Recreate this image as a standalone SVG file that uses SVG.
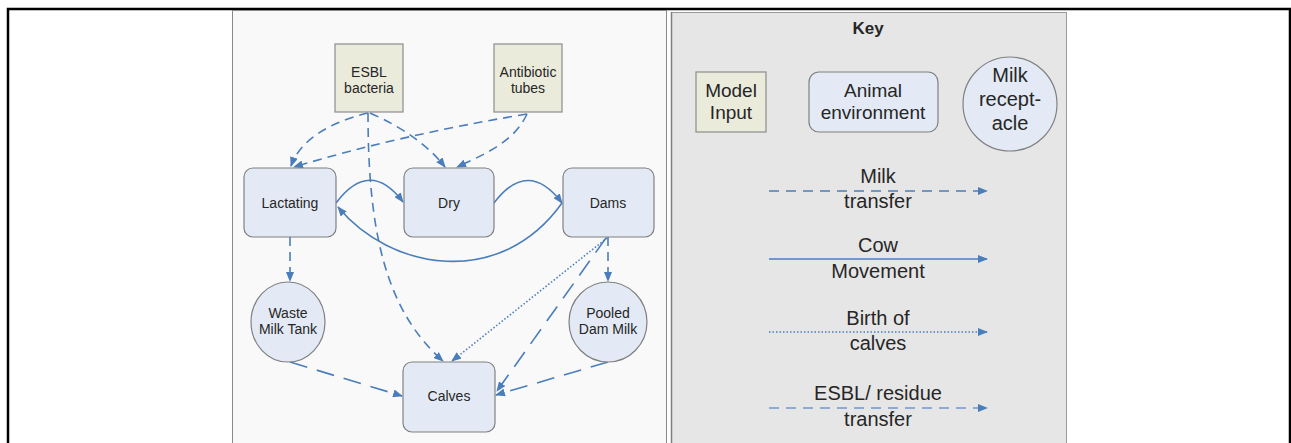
<svg xmlns="http://www.w3.org/2000/svg" width="1291" height="443" viewBox="0 0 1291 443">
<style>
text{font-family:"Liberation Sans",Arial,sans-serif;fill:#262626;text-anchor:middle}
.t{font-size:14px}
.k{font-size:20px}
.k2{font-size:19px}
.box{fill:#e3eaf5;stroke:#808080;stroke-width:1.2}
.inp{fill:#ebebdc;stroke:#8c8c8c;stroke-width:1.2}
.c{fill:none;stroke:#4a7ebb;stroke-width:1.6}
.esbl{stroke-dasharray:9,6}
.milk{stroke-dasharray:18,10}
.dot{stroke-dasharray:1.5,2}
.kd{stroke-dasharray:10,7}
</style>
<defs>
<marker id="ah" markerWidth="10" markerHeight="8" refX="9" refY="4" orient="auto" markerUnits="userSpaceOnUse">
<path d="M0,0 L10,4 L0,8 Z" fill="#4a7ebb"/>
</marker>
</defs>
<rect width="1291" height="443" fill="#ffffff"/>
<path d="M8,443 L8,9 L1290,9 L1290,443" fill="none" stroke="#000" stroke-width="2.5"/>
<rect id="panel" x="232.5" y="10.5" width="434" height="440" fill="#f9f9f9" stroke="#8a8a8a" stroke-width="1"/>
<rect id="keypanel" x="671.5" y="12.5" width="395" height="440" fill="#e6e6e6" stroke="#9a9a9a" stroke-width="1"/>
<line x1="671.5" y1="12" x2="671.5" y2="443" stroke="#808080" stroke-width="1.5"/>

<g id="connectors">
<path class="c esbl" d="M368,113 C330,122 300,140 291,166" marker-end="url(#ah)"/>
<path class="c esbl" d="M527,114 Q400,135 294,167" marker-end="url(#ah)"/>
<path class="c esbl" d="M370,113 Q420,135 445,167" marker-end="url(#ah)"/>
<path class="c esbl" d="M527,114 C515,140 490,152 457,167" marker-end="url(#ah)"/>
<path class="c esbl" d="M368,113 C368,230 385,310 443,361" marker-end="url(#ah)"/>
<path class="c" d="M336,203 Q370,158 403,202" marker-end="url(#ah)"/>
<path class="c" d="M494,203 Q528,158 562,203" marker-end="url(#ah)"/>
<path class="c" d="M562,203 C500,290 390,270 338,207" marker-end="url(#ah)"/>
<path class="c esbl" d="M290,237 L290,281" marker-end="url(#ah)"/>
<path class="c esbl" d="M608,237 L608,281" marker-end="url(#ah)"/>
<path class="c dot" d="M607,238 L452,361" marker-end="url(#ah)"/>
<path class="c milk" d="M606,238 L497,391" marker-end="url(#ah)"/>
<path class="c milk" d="M290,362 L402,396" marker-end="url(#ah)"/>
<path class="c milk" d="M608,362 L496,395" marker-end="url(#ah)"/>
</g>

<g id="esbl-bacteria">
<rect class="inp" x="335" y="44" width="68" height="68"/>
<text class="t" x="369" y="77">ESBL</text>
<text class="t" x="369" y="93">bacteria</text>
</g>
<g id="antibiotic-tubes">
<rect class="inp" x="494" y="44" width="68" height="68"/>
<text class="t" x="528" y="77">Antibiotic</text>
<text class="t" x="528" y="93">tubes</text>
</g>
<g id="lactating">
<rect class="box" x="244" y="168" width="92" height="69" rx="9"/>
<text class="t" x="290" y="208">Lactating</text>
</g>
<g id="dry">
<rect class="box" x="404" y="168" width="90" height="69" rx="9"/>
<text class="t" x="449" y="208">Dry</text>
</g>
<g id="dams">
<rect class="box" x="563" y="168" width="91" height="69" rx="9"/>
<text class="t" x="608" y="208">Dams</text>
</g>
<g id="waste-milk-tank">
<ellipse class="box" cx="288" cy="322" rx="37" ry="40"/>
<text class="t" x="288" y="318">Waste</text>
<text class="t" x="288" y="334">Milk Tank</text>
</g>
<g id="pooled-dam-milk">
<ellipse class="box" cx="608" cy="322" rx="39" ry="40"/>
<text class="t" x="608" y="318">Pooled</text>
<text class="t" x="608" y="334">Dam Milk</text>
</g>
<g id="calves">
<rect class="box" x="403" y="362" width="92" height="70" rx="9"/>
<text class="t" x="449" y="401">Calves</text>
</g>

<g id="key">
<text x="868" y="34" style="font-size:17px;font-weight:bold">Key</text>
<g id="key-model-input">
<rect class="inp" x="696" y="72" width="70" height="60"/>
<text class="k2" x="731" y="97">Model</text>
<text class="k2" x="731" y="119">Input</text>
</g>
<g id="key-animal-environment">
<rect class="box" x="809" y="72" width="129" height="60" rx="10"/>
<text class="k2" x="873" y="97">Animal</text>
<text class="k2" x="873" y="119">environment</text>
</g>
<g id="key-milk-receptacle">
<circle class="box" cx="1010" cy="104" r="47"/>
<text class="k" x="1010" y="82">Milk</text>
<text class="k" x="1010" y="106">recept-</text>
<text class="k" x="1010" y="130">acle</text>
</g>
<g id="key-milk-transfer">
<path class="c kd" d="M769,191 L987,191" marker-end="url(#ah)"/>
<text class="k" x="878" y="183">Milk</text>
<text class="k" x="878" y="208">transfer</text>
</g>
<g id="key-cow-movement">
<path class="c" d="M769,259 L987,259" marker-end="url(#ah)"/>
<text class="k" x="878" y="252">Cow</text>
<text class="k" x="878" y="278">Movement</text>
</g>
<g id="key-birth">
<path class="c dot" d="M769,332 L987,332" marker-end="url(#ah)"/>
<text class="k" x="878" y="325">Birth of</text>
<text class="k" x="878" y="350">calves</text>
</g>
<g id="key-esbl">
<path class="c kd" d="M769,408 L987,408" marker-end="url(#ah)" style="stroke:#6f97d0"/>
<text class="k" x="878" y="400">ESBL/ residue</text>
<text class="k" x="878" y="426">transfer</text>
</g>
</g>
</svg>
